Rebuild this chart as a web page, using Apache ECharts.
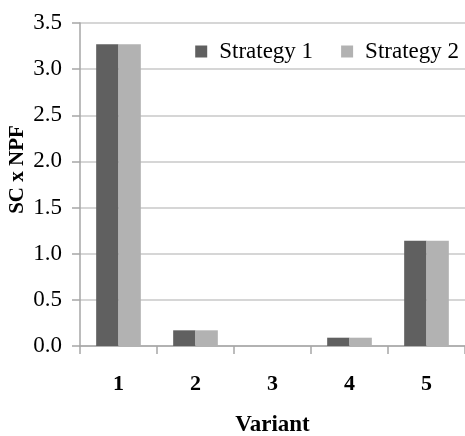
<!DOCTYPE html>
<html><head><meta charset="utf-8">
<script src="https://cdn.jsdelivr.net/npm/echarts@6/dist/echarts.min.js"></script>
<style>html,body{margin:0;padding:0;background:#fff}#c{width:465px;height:436px}</style>
</head><body><div id="c"></div>
<script>
const categories = ['1','2','3','4','5'];
const strategy1 = [3.27, 0.17, 0, 0.09, 1.14];
const strategy2 = [3.27, 0.17, 0, 0.09, 1.14];
const seriesNames = ['Strategy 1','Strategy 2'];
const FONT = 'Liberation Serif';
const chart = echarts.init(document.getElementById('c'));
chart.setOption({
  animation: false,
  textStyle: {fontFamily: FONT},
  legend: {
    right: 1, top: 35, itemWidth: 12, itemHeight: 12, itemGap: 28, itemStyle: {borderWidth: 0},
    icon: 'rect',
    textStyle: {fontFamily: FONT, fontSize: 23, color: '#000', padding: [0, 0, 0, 7]},
    data: seriesNames
  },
  grid: {left: 80, right: 0, top: 23, bottom: 90, containLabel: false, outerBoundsMode: 'none'},
  xAxis: {
    type: 'category', data: categories,
    name: 'Variant', nameLocation: 'middle', nameGap: 68,
    nameTextStyle: {fontFamily: FONT, fontSize: 23, fontWeight: 'bold', color: '#000'},
    axisLine: {lineStyle: {color: '#a6a6a6', width: 1.5}},
    axisTick: {show: true, length: 8, lineStyle: {color: '#a6a6a6', width: 1.5}},
    axisLabel: {fontFamily: FONT, fontSize: 22, fontWeight: 'bold', color: '#000', margin: 27}
  },
  yAxis: {
    type: 'value', min: 0, max: 3.5, interval: 0.5,
    name: 'SC x NPF', nameLocation: 'middle', nameGap: 52, nameRotate: 90, nameMoveOverlap: false,
    nameTextStyle: {fontFamily: FONT, fontSize: 21, fontWeight: 'bold', color: '#000', padding: [0, 0, 0, 30]},
    axisLine: {show: true, lineStyle: {color: '#a6a6a6', width: 1.5}},
    axisTick: {show: true, length: 8, lineStyle: {color: '#a6a6a6', width: 1.5}},
    axisLabel: {fontFamily: FONT, fontSize: 23, color: '#000', margin: 18,
      formatter: v => v.toFixed(1)},
    splitLine: {lineStyle: {color: '#c8c8c8', width: 1.5}}
  },
  series: [
    {name: seriesNames[0], type: 'bar', data: strategy1, barGap: '0%', barCategoryGap: '42%',
      itemStyle: {color: '#606060'}},
    {name: seriesNames[1], type: 'bar', data: strategy2, barGap: '0%', barCategoryGap: '42%',
      itemStyle: {color: '#b2b2b2'}}
  ]
});
</script></body></html>
